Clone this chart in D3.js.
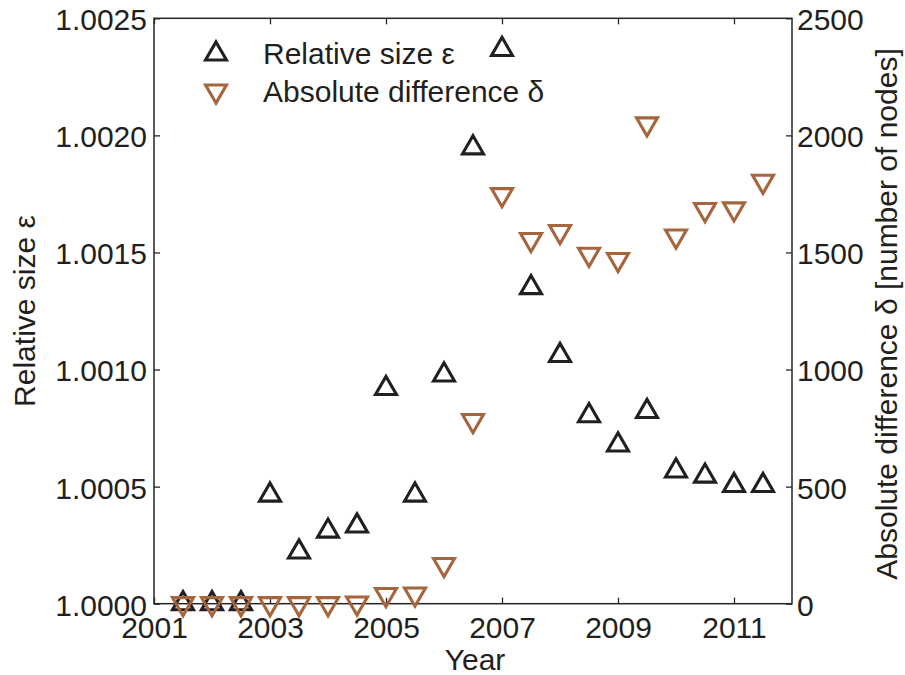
<!DOCTYPE html>
<html>
<head>
<meta charset="utf-8">
<script src="https://cdn.jsdelivr.net/npm/d3@7"></script>
<style>
  html, body { margin: 0; padding: 0; background: #fff; }
  svg text { font-family: "Liberation Sans", Arial, Helvetica, sans-serif; fill: #231f20; }
</style>
</head>
<body>
<svg id="chart" width="905" height="675"></svg>
<script>
// Half-year sampling points
const years = [2001.5, 2002, 2002.5, 2003, 2003.5, 2004, 2004.5, 2005, 2005.5, 2006,
               2006.5, 2007, 2007.5, 2008, 2008.5, 2009, 2009.5, 2010, 2010.5, 2011, 2011.5];
// Relative size epsilon (left axis)
const epsilon = [1.0000, 1.0000, 1.0000, 1.000464, 1.000221, 1.000310, 1.000332, 1.000919, 1.000464, 1.000977,
                 1.001947, 1.002367, 1.00135, 1.00106, 1.000803, 1.000678, 1.000821, 1.000567, 1.000545, 1.000505, 1.000505];
// Absolute difference delta, number of nodes (right axis)
const delta = [0, 0, 0, 0, 0, 0, 3, 39, 41, 167,
               782, 1747, 1555, 1589, 1492, 1470, 2049, 1570, 1683, 1686, 1804];

const xTicks = [2001, 2003, 2005, 2007, 2009, 2011];
const yLeftTicks = [1.0000, 1.0005, 1.0010, 1.0015, 1.0020, 1.0025];
const yRightTicks = [0, 500, 1000, 1500, 2000, 2500];

const legendLabels = ["Relative size \u03b5", "Absolute difference \u03b4"];
const colors = { eps: "#231f20", delta: "#a5653d" };

const svg = d3.select("#chart");
const W = 905, H = 675;
const m = { left: 154, right: 113, top: 18.3, bottom: 71.3 };
const iw = W - m.left - m.right, ih = H - m.top - m.bottom;

const x = d3.scaleLinear().domain([2001, 2012]).range([m.left, m.left + iw]);
const yL = d3.scaleLinear().domain([1.0000, 1.0025]).range([m.top + ih, m.top]);
const yR = d3.scaleLinear().domain([0, 2500]).range([m.top + ih, m.top]);

const axisColor = "#262626";
const tickLen = 6;
const fs = 30;

// Plot frame
svg.append("rect")
  .attr("x", m.left).attr("y", m.top).attr("width", iw).attr("height", ih)
  .attr("fill", "none").attr("stroke", axisColor).attr("stroke-width", 1.5);

// Bottom axis (inward ticks) with labels
const axBottom = svg.append("g").attr("transform", `translate(0,${m.top + ih})`)
  .call(d3.axisBottom(x).tickValues(xTicks).tickFormat(d3.format("d"))
    .tickSizeInner(-tickLen).tickSizeOuter(0).tickPadding(12));
// Top mirrored ticks
const axTop = svg.append("g").attr("transform", `translate(0,${m.top})`)
  .call(d3.axisTop(x).tickValues(xTicks).tickFormat("")
    .tickSizeInner(-tickLen).tickSizeOuter(0));
// Left axis
const axLeft = svg.append("g").attr("transform", `translate(${m.left},0)`)
  .call(d3.axisLeft(yL).tickValues(yLeftTicks).tickFormat(d3.format(".4f"))
    .tickSizeInner(-tickLen).tickSizeOuter(0).tickPadding(7));
// Right axis
const axRight = svg.append("g").attr("transform", `translate(${m.left + iw},0)`)
  .call(d3.axisRight(yR).tickValues(yRightTicks).tickFormat(d3.format("d"))
    .tickSizeInner(-tickLen).tickSizeOuter(0).tickPadding(5));

[axBottom, axTop, axLeft, axRight].forEach(a => {
  a.select(".domain").remove();
  a.selectAll(".tick line").attr("stroke", axisColor).attr("stroke-width", 1.3);
  a.selectAll(".tick text").attr("font-size", fs).attr("fill", "#231f20")
    .attr("font-family", "Liberation Sans, Arial, sans-serif");
});
axBottom.selectAll(".tick text").attr("dy", "0.71em").attr("y", 13);
axLeft.selectAll(".tick text").attr("dy", "0.38em");
axRight.selectAll(".tick text").attr("dy", "0.38em");

// Axis titles
svg.append("text")
  .attr("x", (m.left + m.left + iw) / 2 + 2).attr("y", 670)
  .attr("text-anchor", "middle").attr("font-size", fs).text("Year");
svg.append("text")
  .attr("transform", `translate(35,${m.top + ih / 2}) rotate(-90)`)
  .attr("text-anchor", "middle").attr("font-size", fs).text("Relative size \u03b5");
svg.append("text")
  .attr("transform", `translate(897,${m.top + ih / 2 + 3}) rotate(-90)`)
  .attr("text-anchor", "middle").attr("font-size", fs).text("Absolute difference \u03b4 [number of nodes]");

// Markers
const tri = d3.symbol(d3.symbolTriangle, 190);
const markerStroke = 3.1;

const pts = years.map((yr, i) => ({ yr, e: epsilon[i], d: delta[i] }));

svg.append("g").selectAll("path.eps").data(pts).join("path")
  .attr("class", "eps")
  .attr("d", tri)
  .attr("transform", d => `translate(${x(d.yr)},${yL(d.e)})`)
  .attr("fill", "none").attr("stroke", colors.eps).attr("stroke-width", markerStroke);

svg.append("g").selectAll("path.delta").data(pts).join("path")
  .attr("class", "delta")
  .attr("d", tri)
  .attr("transform", d => `translate(${x(d.yr)},${yR(d.d)}) rotate(180)`)
  .attr("fill", "none").attr("stroke", colors.delta).attr("stroke-width", markerStroke);

// Legend
const legend = svg.append("g");
const legendItems = [
  { label: legendLabels[0], color: colors.eps, rot: 0, y: 54, ty: 64 },
  { label: legendLabels[1], color: colors.delta, rot: 180, y: 91, ty: 101.5 }
];
legendItems.forEach(it => {
  legend.append("path").attr("d", tri)
    .attr("transform", `translate(216,${it.y}) rotate(${it.rot})`)
    .attr("fill", "none").attr("stroke", it.color).attr("stroke-width", markerStroke);
  legend.append("text").attr("x", 263).attr("y", it.ty).attr("font-size", fs).text(it.label);
});
</script>
</body>
</html>
